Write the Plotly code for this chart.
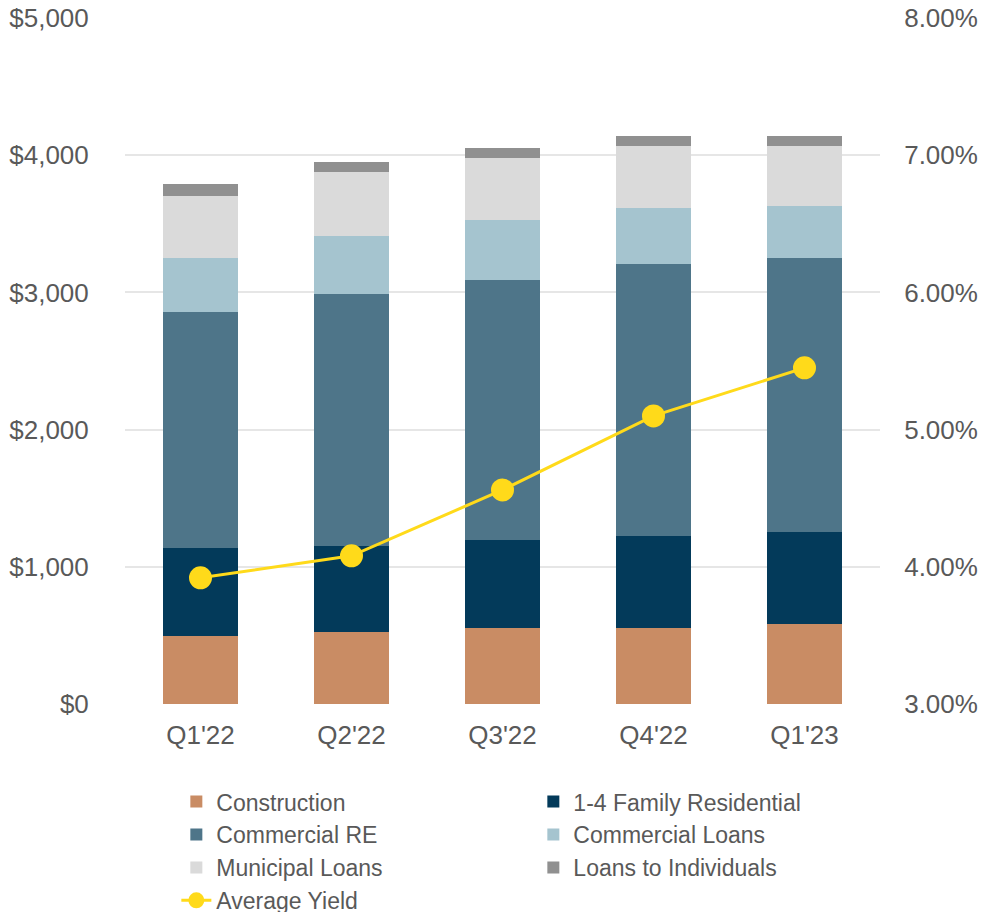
import plotly.graph_objects as go

quarters = ["Q1'22", "Q2'22", "Q3'22", "Q4'22", "Q1'23"]

construction = [496, 525, 554, 554, 583]
family_14 = [641, 627, 641, 670, 671]
commercial_re = [1720, 1836, 1895, 1983, 1997]
commercial_loans = [394, 423, 438, 408, 379]
municipal_loans = [452, 467, 452, 452, 437]
loans_individuals = [87, 72, 72, 73, 73]
avg_yield = [3.92, 4.08, 4.56, 5.10, 5.45]

series = [
    ("Construction", construction, "#C98C64"),
    ("1-4 Family Residential", family_14, "#033A5A"),
    ("Commercial RE", commercial_re, "#4E7589"),
    ("Commercial Loans", commercial_loans, "#A5C4CF"),
    ("Municipal Loans", municipal_loans, "#DADADA"),
    ("Loans to Individuals", loans_individuals, "#909090"),
]

fig = go.Figure()
for name, vals, col in series:
    fig.add_trace(go.Bar(x=quarters, y=vals, name=name, marker_color=col,
                         marker_line_width=0))

fig.add_trace(go.Scatter(x=quarters, y=avg_yield, name="Average Yield", yaxis="y2",
                         mode="lines+markers",
                         line=dict(color="#FFDA1A", width=3),
                         marker=dict(color="#FFDA1A", size=23)))

# page body has an 8px margin, so the figure is a bit smaller than the window
fig.update_layout(
    width=978, height=904,
    barmode="stack", bargap=0.5,
    plot_bgcolor="white", paper_bgcolor="white",
    font=dict(family="Liberation Sans, Arial", size=26, color="#595959"),
    margin=dict(l=117, r=106, t=10, b=208, autoexpand=False),
    xaxis=dict(showgrid=False, ticks="outside", ticklen=8, tickcolor="white"),
    yaxis=dict(range=[0, 5000], dtick=1000, tickprefix="$", tickformat=",",
               gridcolor="#E6E6E6", gridwidth=2, zeroline=False,
               ticks="outside", ticklen=30, tickcolor="white",
               ticklabeloverflow="allow"),
    yaxis2=dict(range=[3, 8], dtick=1, tickformat=".2f", ticksuffix="%",
                overlaying="y", side="right", showgrid=False, zeroline=False,
                ticks="outside", ticklen=18, tickcolor="white",
                ticklabeloverflow="allow"),
    legend=dict(orientation="h", x=0.068, xanchor="left", y=-0.111, yanchor="top",
                font=dict(size=23), entrywidth=312, tracegroupgap=0,
                traceorder="normal"),
)

fig.write_html("out.html")
